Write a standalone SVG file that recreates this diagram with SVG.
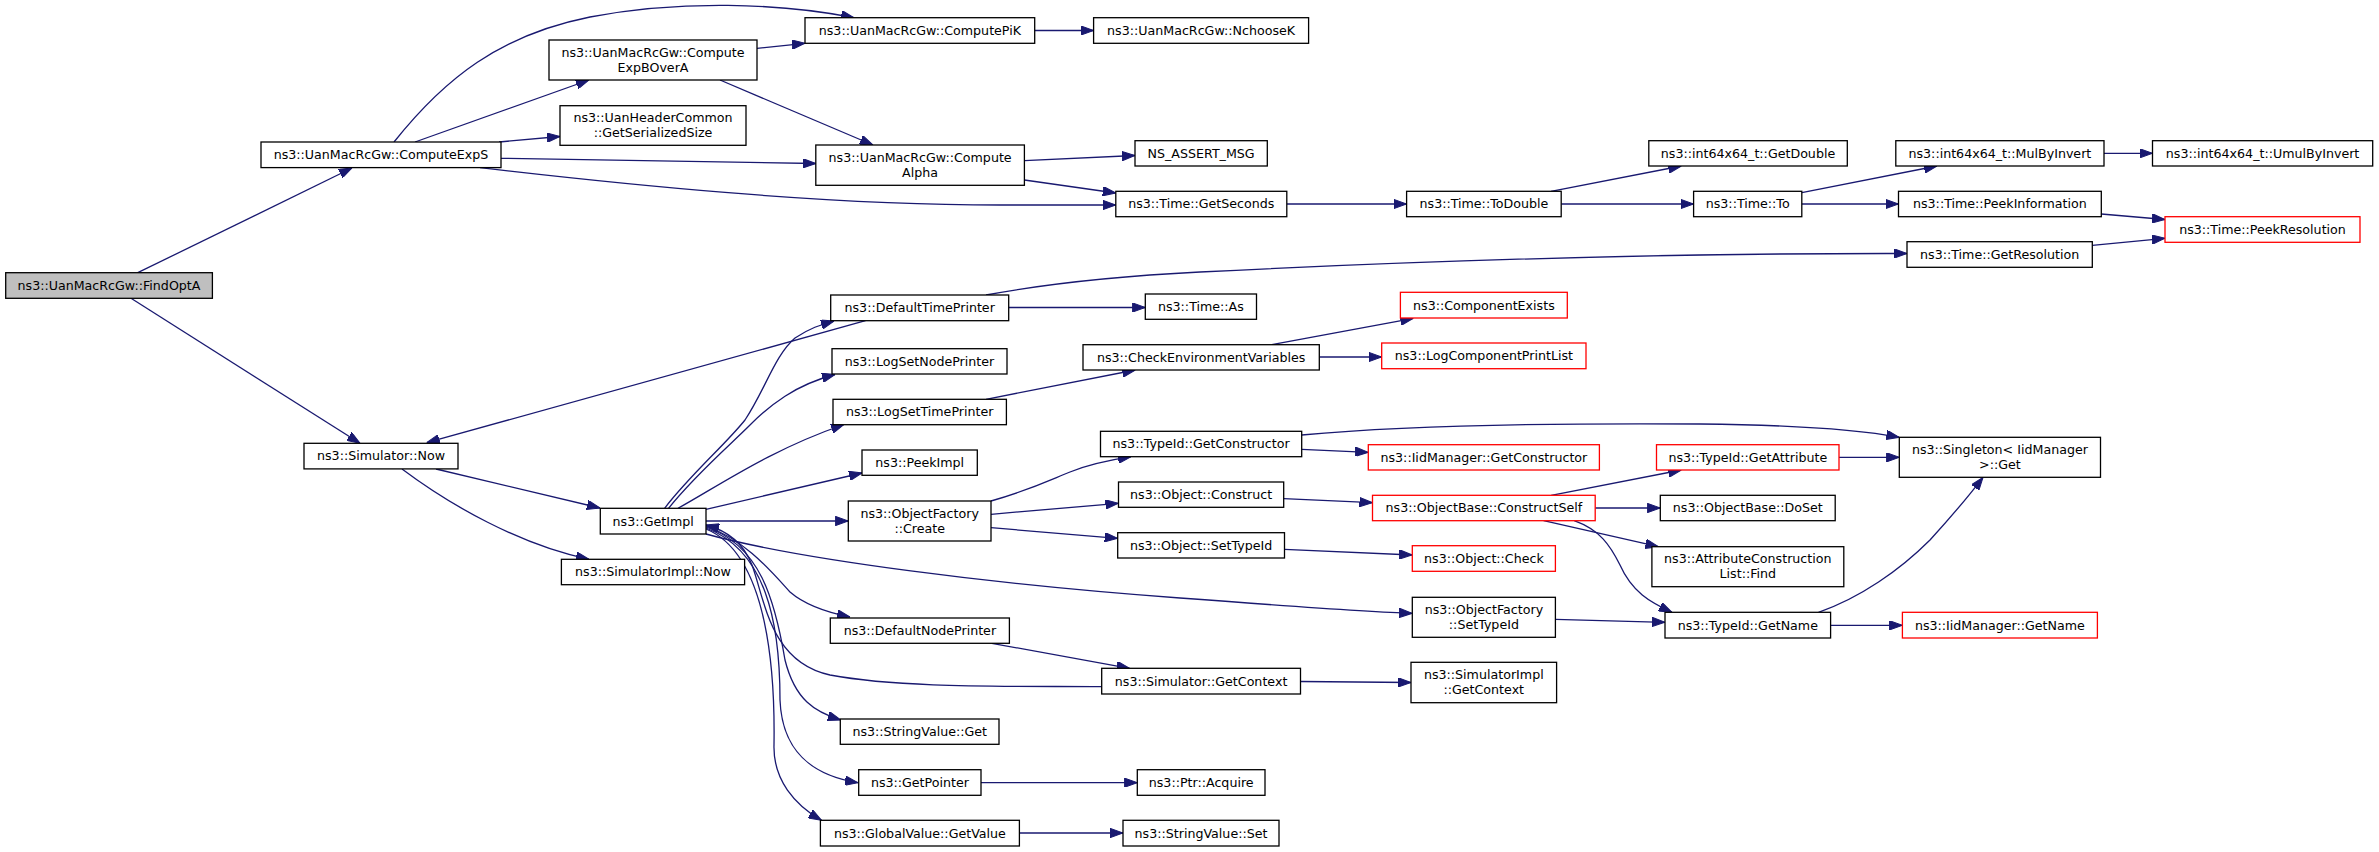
<svg xmlns="http://www.w3.org/2000/svg" width="2379" height="852" viewBox="0 0 2379 852">
<style>
.n rect{fill:#ffffff;stroke:#000000;stroke-width:1.3}
.n.root rect{fill:#bfbfbf}
.n.red rect{stroke:#ff0000}
.n text{font-family:"DejaVu Sans","Liberation Sans",sans-serif;font-size:12.65px;fill:#000000;text-anchor:middle}
#edges path{fill:none;stroke:#191970;stroke-width:1.3;marker-end:url(#ah)}
</style>
<defs>
<marker id="ah" markerUnits="userSpaceOnUse" viewBox="0 0 13 9.4" refX="13" refY="4.7" markerWidth="13" markerHeight="9.4" orient="auto">
<path d="M0,0 L13,4.7 L0,9.4 Z" fill="#191970" stroke="#191970" stroke-width="1"/>
</marker>
</defs>
<rect x="0" y="0" width="2379" height="852" fill="#ffffff"/>
<g id="edges">
<path d="M137.8,272.7 L352,168"/>
<path d="M131,298.3 L360,443.3"/>
<path d="M394,142 C445,78 500,35 590,17 C680,0 780,3 854,17.7"/>
<path d="M415,142 L589,80"/>
<path d="M499,142 L560,136.5"/>
<path d="M501,158.3 L815.8,163.5"/>
<path d="M480,167.7 C620,184 820,205 1000,205 L1115.8,205"/>
<path d="M1034.7,30.5 L1093.6,30.5"/>
<path d="M757,48.3 L805,43.3"/>
<path d="M720,80 L873,145"/>
<path d="M1024.4,160.7 L1135,155.5"/>
<path d="M1024.4,180 L1115.8,193"/>
<path d="M1286.8,204 L1406.6,204"/>
<path d="M1551,191.3 L1681.4,166"/>
<path d="M1561.2,204 L1693.6,204"/>
<path d="M1801.8,192.7 L1937,166"/>
<path d="M1801.8,204 L1898.5,204"/>
<path d="M2104,153.3 L2152.5,153.3"/>
<path d="M2101.3,214 L2165,219.5"/>
<path d="M2092.3,245.3 L2165,238.3"/>
<path d="M986,295 C1040,285 1120,276 1200,272 C1400,262 1650,253 1907,253.5"/>
<path d="M1008.7,307.5 L1145.3,307.5"/>
<path d="M865.5,320.7 L426.7,442.7"/>
<path d="M664.6,508.3 C690,475 725,445 745,420 C765,390 775,355 795,338 C810,328 820,325 834,321"/>
<path d="M668.5,508.3 C695,475 730,445 750,425 C770,405 795,385 835,374.5"/>
<path d="M678,508.3 C720,485 770,450 844,424.5"/>
<path d="M706,509.3 L862,473"/>
<path d="M706,521 L848.3,521"/>
<path d="M706,534 C800,560 1000,585 1180,598 C1300,607 1370,612 1412.3,613.3"/>
<path d="M706,526 C745,540 770,570 790,592 C805,605 825,612 850,617"/>
<path d="M706,527 C760,545 775,600 785,660 C795,700 815,712 840.7,720"/>
<path d="M706,528 C765,550 780,620 780,700 C782,750 810,775 858,782.7"/>
<path d="M706,529 C770,555 775,680 774,745 C773,780 795,805 821.5,820.3"/>
<path d="M1101.7,686.7 C1000,686 900,688 830,675 C770,662 765,600 752,565 C743,542 725,530 706,525"/>
<path d="M991,501 C1030,490 1050,480 1070,472 C1090,464 1110,460 1131,456.7"/>
<path d="M991,514.3 L1118.5,503.3"/>
<path d="M991,527.7 L1117.7,538.3"/>
<path d="M1301.7,449.3 L1368.3,452.3"/>
<path d="M1301.7,435 C1400,426 1550,423 1700,424 C1800,425 1860,430 1899.3,437.3"/>
<path d="M1283.7,498.7 L1372.5,502.7"/>
<path d="M1284.5,549.3 L1412.3,555"/>
<path d="M1555.4,619.3 L1665,622.3"/>
<path d="M1551.2,495.3 L1681.4,470"/>
<path d="M1595.2,508 L1660.3,508"/>
<path d="M1543.6,520.7 L1658.4,546.7"/>
<path d="M1574.2,520.7 C1600,530 1610,545 1620,565 C1632,592 1650,602 1672,612.3"/>
<path d="M1839,457.3 L1899.3,457.3"/>
<path d="M1818.5,612.3 C1860,598 1900,570 1930,540 C1950,518 1968,497 1983,477.3"/>
<path d="M1830.6,625.3 L1902.4,625.3"/>
<path d="M1300.5,681.5 L1411,682.5"/>
<path d="M981,782.7 L1137.3,782.7"/>
<path d="M1019.4,833 L1123,833"/>
<path d="M1271.8,344.7 L1413.4,318.3"/>
<path d="M1319.3,357 L1381.7,357"/>
<path d="M986,399.3 L1135.3,370"/>
<path d="M436,469 L600,508"/>
<path d="M402,469 C450,505 520,545 589,559.3"/>
<path d="M991.8,643.3 L1129.6,668.3"/>
</g>
<g id="n_findopta" class="n root"><rect x="5.7" y="272.7" width="206.7" height="25.6"/><text x="109" y="289.8">ns3::UanMacRcGw::FindOptA</text></g>
<g id="n_computeexps" class="n"><rect x="261" y="142" width="240" height="25.6"/><text x="381" y="159.1">ns3::UanMacRcGw::ComputeExpS</text></g>
<g id="n_simnow" class="n"><rect x="304" y="443.3" width="154" height="25.6"/><text x="381" y="460.4">ns3::Simulator::Now</text></g>
<g id="n_computepik" class="n"><rect x="805" y="17.7" width="229.7" height="25.6"/><text x="919.9" y="34.8">ns3::UanMacRcGw::ComputePiK</text></g>
<g id="n_nchoosek" class="n"><rect x="1093.6" y="17.7" width="215" height="25.6"/><text x="1201.1" y="34.8">ns3::UanMacRcGw::NchooseK</text></g>
<g id="n_expbovera" class="n"><rect x="549" y="40" width="208" height="40"/><text x="653" y="56.5">ns3::UanMacRcGw::Compute</text><text x="653" y="71.5">ExpBOverA</text></g>
<g id="n_serializedsize" class="n"><rect x="560" y="105.7" width="186" height="39.6"/><text x="653" y="122">ns3::UanHeaderCommon</text><text x="653" y="137">::GetSerializedSize</text></g>
<g id="n_computealpha" class="n"><rect x="815.8" y="145" width="208.6" height="40.3"/><text x="920.1" y="161.7">ns3::UanMacRcGw::Compute</text><text x="920.1" y="176.7">Alpha</text></g>
<g id="n_nsassert" class="n"><rect x="1135" y="140.7" width="132.3" height="25.3"/><text x="1201.1" y="157.6">NS_ASSERT_MSG</text></g>
<g id="n_getseconds" class="n"><rect x="1115.8" y="191.3" width="171" height="25.4"/><text x="1201.3" y="208.3">ns3::Time::GetSeconds</text></g>
<g id="n_todouble" class="n"><rect x="1406.6" y="191.3" width="154.6" height="25.4"/><text x="1483.9" y="208.3">ns3::Time::ToDouble</text></g>
<g id="n_getdouble" class="n"><rect x="1648.8" y="140.7" width="198.5" height="25.3"/><text x="1748" y="157.6">ns3::int64x64_t::GetDouble</text></g>
<g id="n_timeto" class="n"><rect x="1693.6" y="191.3" width="108.2" height="25.4"/><text x="1747.7" y="208.3">ns3::Time::To</text></g>
<g id="n_mulbyinvert" class="n"><rect x="1895.8" y="140.7" width="208.2" height="25.3"/><text x="1999.9" y="157.6">ns3::int64x64_t::MulByInvert</text></g>
<g id="n_umulbyinvert" class="n"><rect x="2152.5" y="140.7" width="220.2" height="25.3"/><text x="2262.6" y="157.6">ns3::int64x64_t::UmulByInvert</text></g>
<g id="n_peekinfo" class="n"><rect x="1898.5" y="191.3" width="202.8" height="25.4"/><text x="1999.9" y="208.3">ns3::Time::PeekInformation</text></g>
<g id="n_peekres" class="n red"><rect x="2165" y="216.7" width="195" height="25.6"/><text x="2262.5" y="233.8">ns3::Time::PeekResolution</text></g>
<g id="n_getres" class="n"><rect x="1907" y="241.7" width="185.3" height="25.6"/><text x="1999.7" y="258.8">ns3::Time::GetResolution</text></g>
<g id="n_deftimeprinter" class="n"><rect x="830.7" y="295" width="178" height="25.7"/><text x="919.7" y="312.2">ns3::DefaultTimePrinter</text></g>
<g id="n_timeas" class="n"><rect x="1145.3" y="294" width="111.2" height="25.3"/><text x="1200.9" y="310.9">ns3::Time::As</text></g>
<g id="n_compexists" class="n red"><rect x="1400.4" y="292.3" width="166.9" height="25.7"/><text x="1483.9" y="309.5">ns3::ComponentExists</text></g>
<g id="n_checkenv" class="n"><rect x="1083" y="344.7" width="236.3" height="25.3"/><text x="1201.2" y="361.6">ns3::CheckEnvironmentVariables</text></g>
<g id="n_logcompprint" class="n red"><rect x="1381.7" y="343" width="204.3" height="25.7"/><text x="1483.9" y="360.2">ns3::LogComponentPrintList</text></g>
<g id="n_logsetnode" class="n"><rect x="832" y="348.7" width="175" height="25.3"/><text x="919.5" y="365.6">ns3::LogSetNodePrinter</text></g>
<g id="n_logsettime" class="n"><rect x="833" y="399.3" width="173.4" height="25.4"/><text x="919.7" y="416.3">ns3::LogSetTimePrinter</text></g>
<g id="n_peekimpl" class="n"><rect x="862" y="450" width="115.3" height="25.3"/><text x="919.7" y="466.9">ns3::PeekImpl</text></g>
<g id="n_getimpl" class="n"><rect x="600.3" y="508.3" width="105.7" height="25.7"/><text x="653.2" y="525.5">ns3::GetImpl</text></g>
<g id="n_simimplnow" class="n"><rect x="561.4" y="559.3" width="183.2" height="25.4"/><text x="653" y="576.3">ns3::SimulatorImpl::Now</text></g>
<g id="n_ofcreate" class="n"><rect x="848.3" y="501" width="142.7" height="40"/><text x="919.7" y="517.5">ns3::ObjectFactory</text><text x="919.7" y="532.5">::Create</text></g>
<g id="n_getconstructor" class="n"><rect x="1100.5" y="431.3" width="201.2" height="25.4"/><text x="1201.1" y="448.3">ns3::TypeId::GetConstructor</text></g>
<g id="n_iidgetconstructor" class="n red"><rect x="1368.3" y="444.7" width="231.1" height="25.3"/><text x="1483.9" y="461.6">ns3::IidManager::GetConstructor</text></g>
<g id="n_singletonget" class="n"><rect x="1899.3" y="437.3" width="201.2" height="40"/><text x="1999.9" y="453.8">ns3::Singleton&lt; IidManager</text><text x="1999.9" y="468.8">&gt;::Get</text></g>
<g id="n_getattribute" class="n red"><rect x="1656.5" y="444.7" width="182.5" height="25.3"/><text x="1747.8" y="461.6">ns3::TypeId::GetAttribute</text></g>
<g id="n_objconstruct" class="n"><rect x="1118.5" y="482" width="165.2" height="25.3"/><text x="1201.1" y="498.9">ns3::Object::Construct</text></g>
<g id="n_constructself" class="n red"><rect x="1372.5" y="495.3" width="222.7" height="25.4"/><text x="1483.9" y="512.3">ns3::ObjectBase::ConstructSelf</text></g>
<g id="n_doset" class="n"><rect x="1660.3" y="495.3" width="174.9" height="25.4"/><text x="1747.8" y="512.3">ns3::ObjectBase::DoSet</text></g>
<g id="n_objsettypeid" class="n"><rect x="1117.7" y="532.7" width="166.8" height="25.3"/><text x="1201.1" y="549.6">ns3::Object::SetTypeId</text></g>
<g id="n_objcheck" class="n red"><rect x="1412.3" y="545.7" width="143.1" height="25.6"/><text x="1483.9" y="562.8">ns3::Object::Check</text></g>
<g id="n_attrfind" class="n"><rect x="1651.9" y="546.7" width="191.9" height="40"/><text x="1747.8" y="563.2">ns3::AttributeConstruction</text><text x="1747.8" y="578.2">List::Find</text></g>
<g id="n_ofsettypeid" class="n"><rect x="1412.3" y="597.3" width="143.1" height="40"/><text x="1483.9" y="613.8">ns3::ObjectFactory</text><text x="1483.9" y="628.8">::SetTypeId</text></g>
<g id="n_typeidgetname" class="n"><rect x="1665" y="612.3" width="165.6" height="25.7"/><text x="1747.8" y="629.5">ns3::TypeId::GetName</text></g>
<g id="n_iidgetname" class="n red"><rect x="1902.4" y="612.3" width="195" height="25.7"/><text x="1999.9" y="629.5">ns3::IidManager::GetName</text></g>
<g id="n_defnodeprinter" class="n"><rect x="830.3" y="618" width="179.1" height="25.3"/><text x="919.9" y="634.9">ns3::DefaultNodePrinter</text></g>
<g id="n_simgetcontext" class="n"><rect x="1101.7" y="668.3" width="198.8" height="25.7"/><text x="1201.1" y="685.5">ns3::Simulator::GetContext</text></g>
<g id="n_simimplgetcontext" class="n"><rect x="1411" y="662.3" width="145.6" height="40.4"/><text x="1483.8" y="679">ns3::SimulatorImpl</text><text x="1483.8" y="694">::GetContext</text></g>
<g id="n_stringvalueget" class="n"><rect x="840.3" y="719" width="158.7" height="25.3"/><text x="919.7" y="735.9">ns3::StringValue::Get</text></g>
<g id="n_getpointer" class="n"><rect x="858.7" y="769.7" width="122.3" height="25.6"/><text x="919.9" y="786.8">ns3::GetPointer</text></g>
<g id="n_ptracquire" class="n"><rect x="1137.3" y="769.7" width="127.7" height="25.6"/><text x="1201.2" y="786.8">ns3::Ptr::Acquire</text></g>
<g id="n_globalgetvalue" class="n"><rect x="820.4" y="820.3" width="199" height="25.7"/><text x="919.9" y="837.5">ns3::GlobalValue::GetValue</text></g>
<g id="n_stringvalueset" class="n"><rect x="1123" y="820.3" width="156" height="25.7"/><text x="1201" y="837.5">ns3::StringValue::Set</text></g>
</svg>
